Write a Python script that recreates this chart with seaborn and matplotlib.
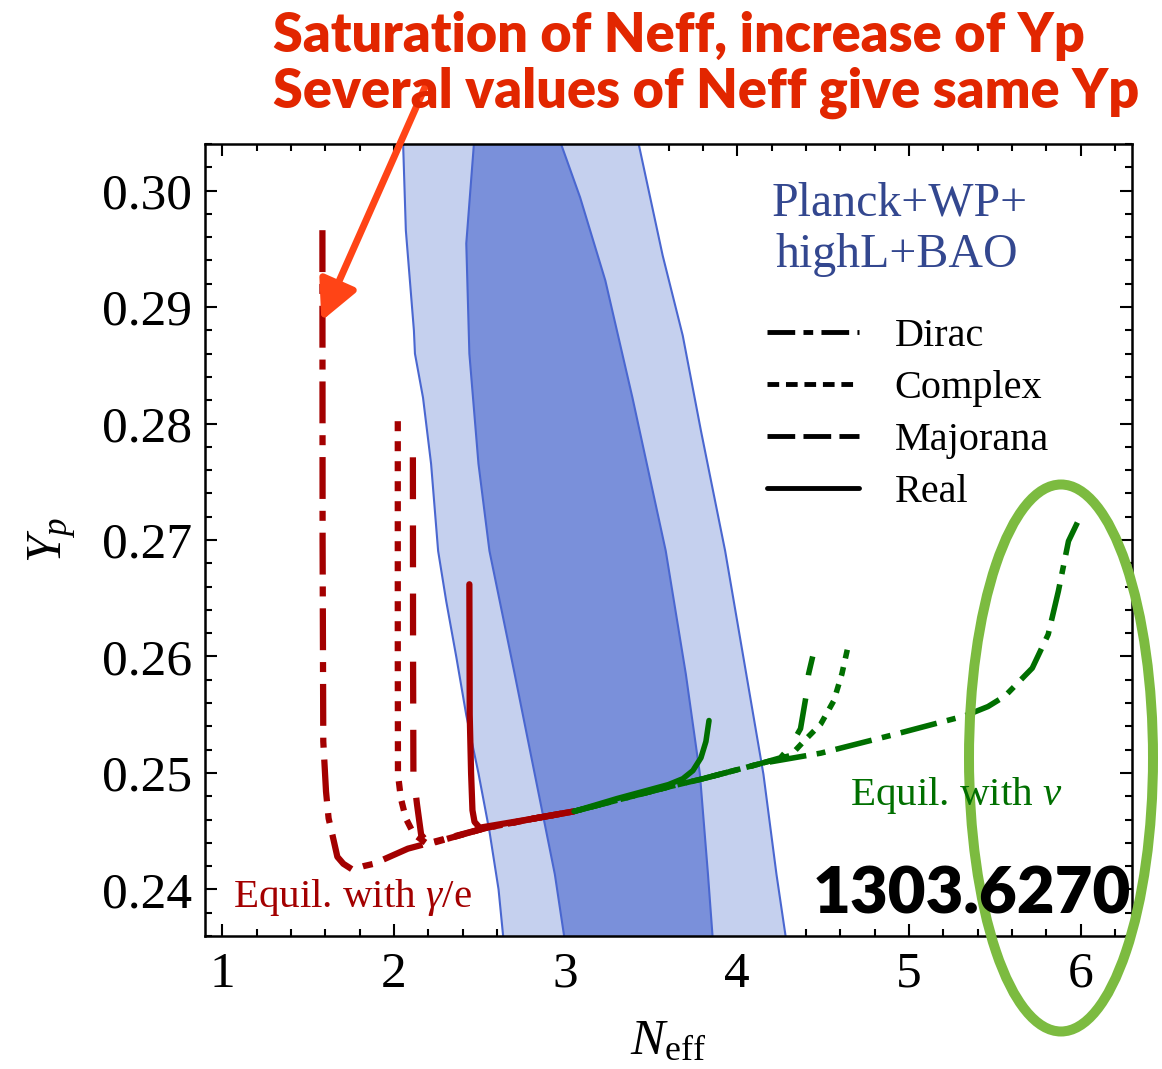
import matplotlib
matplotlib.use("Agg")
import matplotlib.pyplot as plt
import seaborn as sns
import pandas as pd
from matplotlib.lines import Line2D
from matplotlib.patches import Ellipse
from matplotlib.ticker import MultipleLocator, FormatStrFormatter

# ---------------- data ----------------
# Planck+WP+highL+BAO contours (boundaries as Neff at given Yp)
outer_left_x = [2.053, 2.070, 2.117, 2.123, 2.170, 2.217, 2.258, 2.305, 2.364, 2.422, 2.493, 2.557, 2.610, 2.640]
outer_left_y = [0.3045, 0.29658, 0.28798, 0.2860, 0.28222, 0.27654, 0.26906, 0.26476, 0.25995, 0.25496, 0.24997, 0.24499, 0.2400, 0.2355]
outer_right_x = [3.419, 3.566, 3.683, 3.789, 3.930, 4.053, 4.153, 4.229, 4.287]
outer_right_y = [0.3045, 0.29443, 0.28755, 0.27938, 0.26906, 0.25849, 0.24989, 0.24129, 0.2355]
inner_left_x = [2.469, 2.422, 2.440, 2.493, 2.557, 2.704, 2.821, 2.938, 2.997]
inner_left_y = [0.3045, 0.29546, 0.2860, 0.27654, 0.26906, 0.25849, 0.24989, 0.24129, 0.2355]
inner_right_x = [2.962, 3.085, 3.232, 3.390, 3.584, 3.701, 3.783, 3.830, 3.859]
inner_right_y = [0.3045, 0.29942, 0.29228, 0.28222, 0.26906, 0.25849, 0.24989, 0.24129, 0.2355]

# Equilibrium with photons/electrons (red)
red_dirac_x = [1.584, 1.585, 1.589, 1.605, 1.620, 1.642, 1.671, 1.706, 1.759, 1.824, 1.883, 2.082, 2.235, 2.528, 2.821, 3.05]
red_dirac_y = [0.2966, 0.2700, 0.2527, 0.2484, 0.2461, 0.2447, 0.2428, 0.2422, 0.2417, 0.2420, 0.2422, 0.2435, 0.2441, 0.24525, 0.2461, 0.2467]
red_complex_x = [2.023, 2.023, 2.024, 2.041, 2.070, 2.117, 2.199, 2.528, 2.821, 3.05]
red_complex_y = [0.2802, 0.2600, 0.2499, 0.24782, 0.2461, 0.24473, 0.24387, 0.24525, 0.2461, 0.2467]
red_majorana_x = [2.111, 2.112, 2.114, 2.135, 2.159, 2.205, 2.528, 2.821, 3.05]
red_majorana_y = [0.2771, 0.2600, 0.2499, 0.2473, 0.2447, 0.2439, 0.24525, 0.2461, 0.2467]
red_real_x = [2.440, 2.442, 2.450, 2.458, 2.470, 2.500, 2.821, 3.05]
red_real_y = [0.2662, 0.2550, 0.2500, 0.2468, 0.2458, 0.2453, 0.2461, 0.2467]

# Equilibrium with neutrinos (green)
green_dirac_x = [3.05, 3.6, 3.8, 4.135, 4.487, 4.915, 5.326, 5.461, 5.56, 5.719, 5.812, 5.871, 5.93, 5.982]
green_dirac_y = [0.2467, 0.2488, 0.2495, 0.2508, 0.2517, 0.2533, 0.2549, 0.2557, 0.2566, 0.2590, 0.2619, 0.2656, 0.2699, 0.2715]
green_complex_x = [3.05, 3.6, 3.8, 4.135, 4.311, 4.387, 4.487, 4.563, 4.61, 4.651]
green_complex_y = [0.2467, 0.2488, 0.2495, 0.2508, 0.2515, 0.2527, 0.2542, 0.2562, 0.2585, 0.2612]
green_majorana_x = [3.05, 3.6, 3.8, 4.135, 4.252, 4.311, 4.369, 4.399, 4.416, 4.44]
green_majorana_y = [0.2467, 0.2488, 0.2495, 0.2508, 0.2513, 0.2523, 0.2538, 0.2564, 0.2585, 0.2600]
green_real_x = [3.05, 3.3, 3.6, 3.683, 3.742, 3.789, 3.818, 3.836]
green_real_y = [0.2467, 0.2478, 0.2490, 0.2495, 0.2502, 0.2513, 0.2527, 0.2545]

legend_labels = ["Dirac", "Complex", "Majorana", "Real"]
x_ticks = [1, 2, 3, 4, 5, 6]
y_ticks = [0.24, 0.25, 0.26, 0.27, 0.28, 0.29, 0.30]

# ---------------- style ----------------
sns.set_theme(style="ticks")
plt.rcParams["font.family"] = ["Liberation Serif", "DejaVu Serif"]
plt.rcParams["mathtext.fontset"] = "custom"
plt.rcParams["mathtext.rm"] = "Liberation Serif"
plt.rcParams["mathtext.it"] = "Liberation Serif:italic"
plt.rcParams["mathtext.bf"] = "Liberation Serif:bold"
for k in ["text.color", "axes.labelcolor", "xtick.color", "ytick.color", "axes.edgecolor"]:
    plt.rcParams[k] = "black"

RED = "#a30000"
GREEN = "#006f00"
LIGHT = "#c5d0ee"
DARK = "#7a90da"
EDGE = "#4a67d0"

ls_dirac = (0, (6.7, 1.9, 1.6, 1.9))
ls_complex = (0, (1.6, 1.6))
ls_majorana = (0, (6.7, 4.2))
ls_real = "-"

fig = plt.figure(figsize=(11.62, 10.69), dpi=100)
fig.patch.set_facecolor("white")
ax = fig.add_axes([205 / 1162, 133 / 1069, 927 / 1162, 792 / 1069])

# contours
ax.fill(outer_left_x + outer_right_x[::-1], outer_left_y + outer_right_y[::-1],
        facecolor=LIGHT, edgecolor=EDGE, lw=1.5, zorder=1)
ax.fill(inner_left_x + inner_right_x[::-1], inner_left_y + inner_right_y[::-1],
        facecolor=DARK, edgecolor=EDGE, lw=1.5, zorder=2)

def curve(xs, ys, color, ls, lw):
    df = pd.DataFrame({"Neff": xs, "Yp": ys})
    sns.lineplot(data=df, x="Neff", y="Yp", sort=False, estimator=None, ax=ax,
                 color=color, linestyle=ls, lw=lw, zorder=3)

for xs, ys, ls in [(red_dirac_x, red_dirac_y, ls_dirac),
                   (red_complex_x, red_complex_y, ls_complex),
                   (red_majorana_x, red_majorana_y, ls_majorana),
                   (red_real_x, red_real_y, ls_real)]:
    curve(xs, ys, RED, ls, 4.5)

for xs, ys, ls in [(green_dirac_x, green_dirac_y, ls_dirac),
                   (green_complex_x, green_complex_y, ls_complex),
                   (green_majorana_x, green_majorana_y, ls_majorana),
                   (green_real_x, green_real_y, ls_real)]:
    curve(xs, ys, GREEN, ls, 4.0)

ax.set_xlim(0.9, 6.3)
ax.set_ylim(0.236, 0.304)
ax.set_xticks(x_ticks)
ax.set_yticks(y_ticks)
ax.xaxis.set_minor_locator(MultipleLocator(0.2))
ax.yaxis.set_minor_locator(MultipleLocator(0.002))
ax.yaxis.set_major_formatter(FormatStrFormatter("%.2f"))
ax.tick_params(which="both", direction="in", top=True, right=True, color="black",
               labelcolor="black", width=1.5)
ax.tick_params(which="major", length=8.5, labelsize=37)
ax.tick_params(which="minor", length=5)
ax.tick_params(axis="x", pad=11)
ax.tick_params(axis="y", pad=9)
for s in ax.spines.values():
    s.set_linewidth(1.8)
    s.set_color("black")
    s.set_visible(True)
    s.set_zorder(5)

ax.set_xlabel(r"$N_{\rm eff}$", fontsize=37, labelpad=15, color="black")
ax.set_ylabel(r"$Y_p$", fontsize=36, labelpad=17, color="black")

# legend
handles = [Line2D([], [], color="black", lw=3.5, linestyle=(0, (5.7, 1.7, 2.0, 1.7))),
           Line2D([], [], color="black", lw=3.5, linestyle=(0, (2.4, 1.4))),
           Line2D([], [], color="black", lw=3.5, linestyle=(0, (5.7, 1.7))),
           Line2D([], [], color="black", lw=3.5, linestyle="-")]
leg = ax.legend(handles, legend_labels, loc="upper left", bbox_to_anchor=(0.606, 0.781),
                frameon=False, fontsize=29, handlelength=2.3, handletextpad=0.87,
                labelspacing=0.37, borderpad=0, borderaxespad=0)
for t in leg.get_texts():
    t.set_color("black")

# texts
fig.text(772 / 1162, 1 - 216 / 1069, "Planck+WP+", fontsize=34.5, color="#33478f")
fig.text(775 / 1162, 1 - 267 / 1069, "highL+BAO", fontsize=34.5, color="#33478f")
fig.text(233 / 1162, 1 - 907 / 1069, r"Equil. with $\gamma$/e", fontsize=29.5, color=RED)
fig.text(850 / 1162, 1 - 805 / 1069, r"Equil. with $\nu$", fontsize=29.5, color=GREEN)

fig.text(273 / 1162, 1 - 52 / 1069, "Saturation of Neff, increase of Yp",
         fontsize=38.8, family="Lato", weight="heavy", color="#e22600")
fig.text(273 / 1162, 1 - 108 / 1069, "Several values of Neff give same Yp",
         fontsize=38.8, family="Lato", weight="heavy", color="#e22600")

ax.annotate("", xy=(1.578, 0.2888), xycoords="data",
            xytext=(426 / 1162, 1 - 85 / 1069), textcoords="figure fraction",
            arrowprops=dict(arrowstyle="-|>,head_length=1.2,head_width=0.6",
                            color="#ff4416", lw=5, shrinkA=0, shrinkB=0,
                            mutation_scale=20),
            annotation_clip=False, zorder=10)

ell = Ellipse((1061 / 1162, 1 - 758 / 1069), 184 / 1162, 547 / 1069,
              transform=fig.transFigure, fill=False, lw=7.2, ec="#7cbb40", zorder=2)
fig.add_artist(ell)

fig.text(813 / 1162, 1 - 913 / 1069, "1303.6270", fontsize=47, family="Lato",
         weight="heavy", color="black", zorder=5)

fig.savefig("out.png", dpi=100)
